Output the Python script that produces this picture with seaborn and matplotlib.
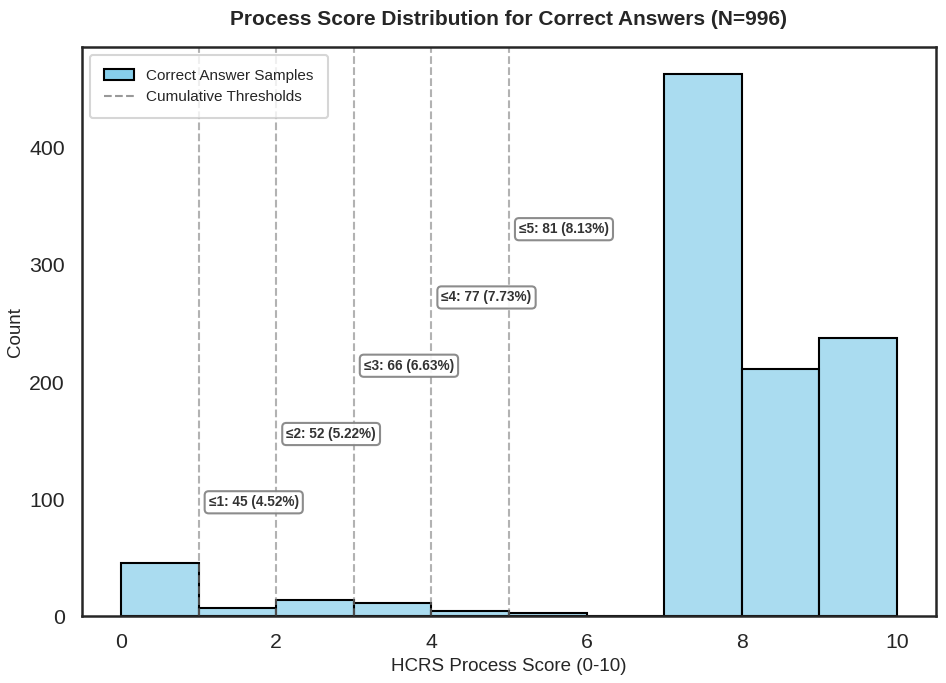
import numpy as np
import pandas as pd
import matplotlib
matplotlib.use("Agg")
import matplotlib.pyplot as plt
import seaborn as sns
from matplotlib.lines import Line2D
from matplotlib.patches import Patch

# Data
bin_left = [0, 1, 2, 3, 4, 5, 6, 7, 8, 9]
counts = [45, 7, 14, 11, 4, 3, 0, 463, 211, 238]
thresholds = [1, 2, 3, 4, 5]
cum_counts = [45, 52, 66, 77, 81]
cum_pcts = [4.52, 5.22, 6.63, 7.73, 8.13]
total_n = 996

sns.set_theme(style="white", context="talk")
plt.rcParams['font.family'] = ['Liberation Sans', 'DejaVu Sans']

df = pd.DataFrame({"score": [b + 0.5 for b in bin_left], "n": counts})

fig, ax = plt.subplots(figsize=(9.46, 6.83), dpi=100)
sns.histplot(data=df, x="score", weights="n", binwidth=1, binrange=(0, 10),
             color="skyblue", alpha=0.7, edgecolor="black", linewidth=1.5, ax=ax)

max_c = max(counts)
for i, (t, c, p) in enumerate(zip(thresholds, cum_counts, cum_pcts)):
    ax.axvline(t, color="gray", linestyle="--", alpha=0.6, linewidth=1.5)
    ax.text(t + 0.13, max_c * (0.21 + 0.126 * i), f"≤{t}: {c} ({p:.2f}%)",
            fontsize=9.8, fontweight="bold", color="#333333", va="center", ha="left",
            bbox=dict(boxstyle="round,pad=0.3", facecolor="white", edgecolor="gray",
                      alpha=0.9, linewidth=1.5))

for s in ax.spines.values():
    s.set_color("#262626")
    s.set_linewidth(1.8)

ax.set_title(f"Process Score Distribution for Correct Answers (N={total_n})",
             fontsize=15, fontweight="bold", pad=16)
ax.set_xlabel("HCRS Process Score (0-10)", fontsize=13.5)
ax.set_ylabel("Count", fontsize=13.5)
ax.tick_params(axis="both", labelsize=15.3)
ax.set_yticks([0, 100, 200, 300, 400])

handles = [Patch(facecolor="skyblue", edgecolor="black", linewidth=1.5),
           Line2D([0], [0], color="gray", linestyle="--", linewidth=1.5, alpha=0.8)]
ax.legend(handles, ["Correct Answer Samples", "Cumulative Thresholds"],
          loc="upper left", fontsize=11, frameon=True, borderpad=0.9)

fig.subplots_adjust(left=0.087, right=0.989, top=0.931, bottom=0.098)
fig.savefig("out.png", dpi=100)
